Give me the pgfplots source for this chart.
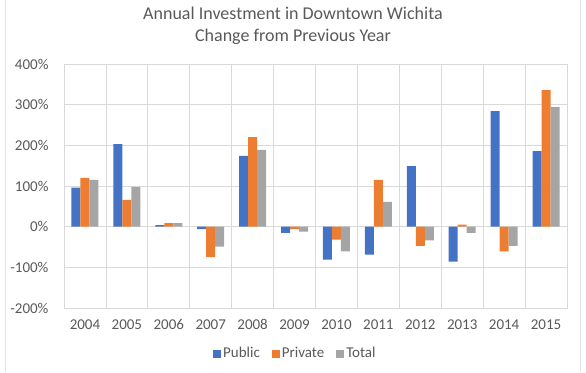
\documentclass[border=0pt]{standalone}
\usepackage{pgfplots}
\pgfplotsset{compat=1.18}
\usepackage{fontspec}
\setmainfont{Carlito}
\definecolor{pub}{RGB}{68,114,196}
\definecolor{pri}{RGB}{237,125,49}
\definecolor{tot}{RGB}{165,165,165}
\definecolor{txt}{RGB}{89,89,89}
\definecolor{grd}{RGB}{217,217,217}
\begin{document}
\begin{tikzpicture}[x=1pt,y=1pt]
\useasboundingbox (0,0) rectangle (586,372);
\draw[color=grd!70,line width=0.6pt] (5,0) -- (5,372);
\draw[color=grd!70,line width=0.6pt] (580,0) -- (580,372);
\node[font=\fontsize{18}{22}\selectfont,text=txt,align=center] at (293,346) {Annual Investment in Downtown Wichita\\Change from Previous Year};
\begin{axis}[
  at={(64pt,64pt)}, anchor=south west,
  scale only axis, width=503pt, height=244pt,
  ymin=-200, ymax=400, ytick={-200,-100,...,400},
  xmin=-0.5, xmax=11.5,
  xtick={0,...,11},
  xticklabels={2004,2005,2006,2007,2008,2009,2010,2011,2012,2013,2014,2015},
  minor xtick={-0.5,0.5,...,11.5},
  xminorgrids, ymajorgrids,
  grid style={color=grd,line width=0.7pt},
  minor grid style={color=grd,line width=0.7pt},
  axis line style={color=grd,line width=0.7pt},
  major tick length=0pt, minor tick length=0pt,
  tick style={draw=none},
  ybar, bar width=9pt,
  /pgf/number format/assume math mode=true,
  yticklabel={\pgfmathprintnumber{\tick}\%},
  ticklabel style={font=\fontsize{15}{17}\selectfont,text=txt},
  yticklabel style={xshift=-12pt},
  xticklabel style={yshift=-8pt},
  legend style={at={(0.46,-0.145)},anchor=north,draw=none,legend columns=-1,
     font=\fontsize{15}{17}\selectfont,text=txt,
     /tikz/every even column/.append style={column sep=10pt}},
  legend image code/.code={\fill[#1] (0pt,-4pt) rectangle (8pt,4pt);},
]
\addplot[fill=pub,draw=none,bar shift=-9pt] coordinates {(0,96) (1,203) (2,4) (3,-6) (4,174) (5,-15) (6,-81) (7,-69) (8,149) (9,-86) (10,284) (11,186)};
\addplot[fill=pri,draw=none,bar shift=0pt] coordinates {(0,120) (1,66) (2,9) (3,-75) (4,220) (5,-6) (6,-32) (7,115) (8,-47) (9,5) (10,-61) (11,336)};
\addplot[fill=tot,draw=none,bar shift=9pt] coordinates {(0,115) (1,98) (2,9) (3,-49) (4,189) (5,-12) (6,-61) (7,61) (8,-34) (9,-15) (10,-47) (11,294)};
\legend{Public,Private,Total}
\end{axis}
\end{tikzpicture}
\end{document}
